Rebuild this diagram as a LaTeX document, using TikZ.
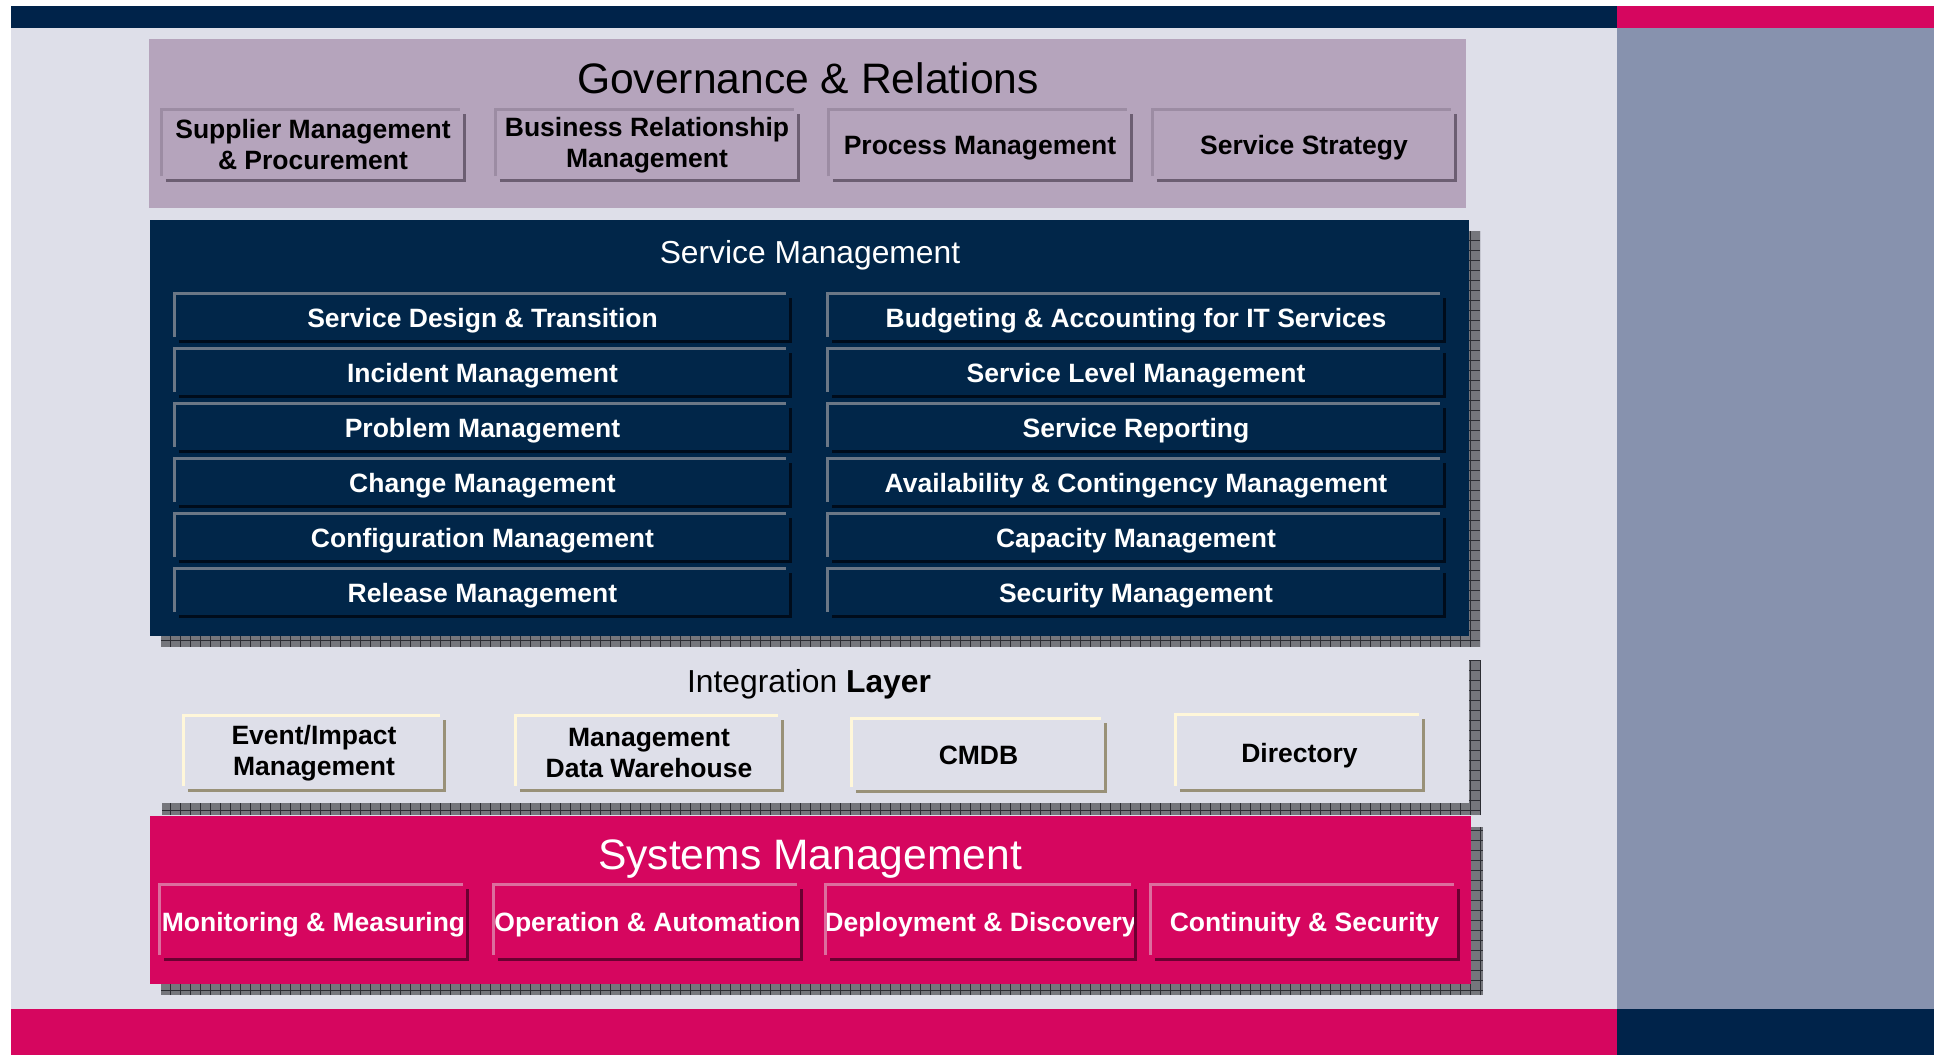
\documentclass[tikz,border=0pt]{standalone}
\usepackage{fontspec}
\setmainfont{Liberation Sans}
\usepackage{tikz}
\definecolor{darknavy}{HTML}{00234A}
\definecolor{boxnavy}{HTML}{012649}
\definecolor{berry}{HTML}{D6065F}
\definecolor{paleblue}{HTML}{DEDFE9}
\definecolor{slate}{HTML}{8792AE}
\definecolor{mauve}{HTML}{B5A4BC}
\definecolor{hatchgray}{HTML}{75767C}
\definecolor{hatchline}{HTML}{2C2D33}
\definecolor{govhi}{HTML}{9C8CA3}
\definecolor{govlo}{HTML}{6C5E72}
\definecolor{smhi}{HTML}{6B7786}
\definecolor{smlo}{HTML}{000C1B}
\definecolor{inthi}{HTML}{FFF7DA}
\definecolor{intlo}{HTML}{999178}
\definecolor{syshi}{HTML}{DC6E9E}
\definecolor{syslo}{HTML}{6A0031}

\begin{document}
\begin{tikzpicture}[x=1pt,y=-1pt,
		item/.style={inner sep=0pt,align=center,font=\fontsize{26.5}{31}\selectfont\bfseries},
		oneline/.style={text height=19pt,text depth=0pt},
		govbox/.style={item,minimum width=306pt,minimum height=74pt},
		smbox/.style={item,oneline,text=white,minimum width=619pt,minimum height=51pt},
		intbox/.style={item,minimum height=78pt},
		sysbox/.style={item,oneline,text=white,minimum width=311pt,minimum height=78pt},
		title/.style={anchor=base,font=\fontsize{31.8}{36}\selectfont},
		bigtitle/.style={anchor=base,font=\fontsize{42.6}{48}\selectfont},
		hi/.style={draw=#1,line width=3pt},
		lo/.style={draw=#1,line width=3pt}]
	\useasboundingbox (0,0) rectangle (1934,1055);
	\fill[white] (0,0) rectangle (1934,1055);
	% frame
	\fill[paleblue] (11,28) rectangle (1617,1009);
	\fill[slate] (1617,28) rectangle (1934,1009);
	\fill[darknavy] (11,6) rectangle (1617,28);
	\fill[berry] (1617,6) rectangle (1934,28);
	\fill[berry] (11,1009) rectangle (1617,1055);
	\fill[darknavy] (1617,1009) rectangle (1934,1055);
	% shadows
	\foreach \l/\t/\r/\b in {161/231/1480/647,162/660/1481/815,161/827/1483/995}
	{
		\fill[hatchgray] (\l,\t) rectangle (\r,\b);
		\begin{scope}
			\clip (\l,\t) rectangle (\r,\b);
			\draw[hatchline,line width=1pt,step=10pt] (\l,\b) grid (\r,\t);
		\end{scope}
	}
	% layers
	\fill[mauve] (149,39) rectangle (1466,208);
	\fill[boxnavy] (150,220) rectangle (1469,636);
	\fill[paleblue] (150,647) rectangle (1469,803);
	\fill[berry] (150,816) rectangle (1471,984);
	\node[bigtitle] (govtitle) at (808,93) {Governance \& Relations};
	\node[title,white] (smtitle) at (810,263) {Service Management};
	\node[title] (inttitle) at (809,692) {Integration \textbf{Layer}};
	\node[bigtitle,white] (systitle) at (810,869) {Systems Management};
	% governance
	\node[govbox] (gov1) at (313,145) {Supplier Management\\\& Procurement};
	\node[govbox] (gov2) at (647,145) {Business Relationship\\Management};
	\node[govbox,oneline] (gov3) at (980,145) {Process Management};
	\node[govbox,oneline] (gov4) at (1304,145) {Service Strategy};
	% service management
	\foreach \i/\a/\b in {1/Service Design \& Transition/Budgeting \& Accounting for IT Services,
		2/Incident Management/Service Level Management,
		3/Problem Management/Service Reporting,
		4/Change Management/Availability \& Contingency Management,
		5/Configuration Management/Capacity Management,
		6/Release Management/Security Management}
	{
		\node[smbox] (sml\i) at (482.5,262.5+55*\i) {\a};
		\node[smbox] (smr\i) at (1136,262.5+55*\i) {\b};
	}
	% integration
	\node[intbox,minimum width=264pt] (int1) at (314,753) {Event/Impact\\Management};
	\node[intbox,minimum width=270pt] (int2) at (649,753) {Management\\Data Warehouse};
	\node[intbox,oneline,minimum width=257pt,minimum height=76pt] (int3) at (978.5,755) {CMDB};
	\node[intbox,oneline,minimum width=251pt] (int4) at (1299.5,752.5) {Directory};
	% systems
	\node[sysbox] (sys1) at (313.5,922) {Monitoring \& Measuring};
	\node[sysbox] (sys2) at (647.5,922) {Operation \& Automation};
	\node[sysbox] (sys3) at (980.5,922) {Deployment \& Discovery};
	\node[sysbox] (sys4) at (1304.5,922) {Continuity \& Security};
	% bevels
	\foreach \g/\h/\d in {gov/govhi/govlo,int/inthi/intlo,sys/syshi/syslo}
	{
		\foreach \i in {1,...,4}
		{
			\draw[hi=\h] ([shift={(1.5pt,6pt)}]\g\i.south west) -- ([shift={(1.5pt,-1.5pt)}]\g\i.north west) -- ([shift={(-6pt,-1.5pt)}]\g\i.north east);
			\draw[lo=\d] ([shift={(6pt,1.5pt)}]\g\i.south west) -- ([shift={(-1.5pt,1.5pt)}]\g\i.south east) -- ([shift={(-1.5pt,-6pt)}]\g\i.north east);
		}
	}
	\foreach \i in {1,...,6}
	{
		\foreach \s in {l,r}
		{
			\draw[hi=smhi] ([shift={(1.5pt,6pt)}]sm\s\i.south west) -- ([shift={(1.5pt,-1.5pt)}]sm\s\i.north west) -- ([shift={(-6pt,-1.5pt)}]sm\s\i.north east);
			\draw[lo=smlo] ([shift={(6pt,1.5pt)}]sm\s\i.south west) -- ([shift={(-1.5pt,1.5pt)}]sm\s\i.south east) -- ([shift={(-1.5pt,-6pt)}]sm\s\i.north east);
		}
	}
\end{tikzpicture}
\end{document}
